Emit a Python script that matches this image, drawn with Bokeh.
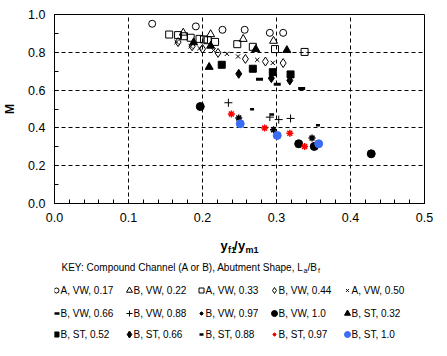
from bokeh.plotting import figure
from bokeh.models import Range1d, SingleIntervalTicker, PrintfTickFormatter
from bokeh.layouts import column
from bokeh.core.properties import value
from bokeh.embed import file_html
from bokeh.resources import INLINE

FONT = "Liberation Sans"

# ---------------- data ----------------
A_VW_017_x = [0.132, 0.191, 0.227, 0.257, 0.291, 0.309]
A_VW_017_y = [0.951, 0.937, 0.919, 0.919, 0.903, 0.903]

B_VW_022_x = [0.174, 0.211, 0.255, 0.296]
B_VW_022_y = [0.903, 0.895, 0.870, 0.860]

A_VW_033_x = [0.155, 0.167, 0.175, 0.184, 0.196, 0.202, 0.207, 0.217, 0.247, 0.268, 0.298, 0.338]
A_VW_033_y = [0.894, 0.891, 0.885, 0.877, 0.871, 0.868, 0.864, 0.855, 0.843, 0.829, 0.817, 0.802]

B_VW_044_x = [0.167, 0.186, 0.200, 0.221, 0.258, 0.285, 0.309]
B_VW_044_y = [0.854, 0.832, 0.818, 0.797, 0.765, 0.751, 0.743]

A_VW_050_x = [0.165, 0.184, 0.196, 0.215, 0.233, 0.248, 0.274, 0.295]
A_VW_050_y = [0.854, 0.832, 0.822, 0.810, 0.792, 0.778, 0.760, 0.744]

B_VW_066_x = [0.277, 0.301, 0.334]
B_VW_066_y = [0.658, 0.631, 0.608]

B_VW_088_x = [0.235, 0.291, 0.303, 0.319]
B_VW_088_y = [0.533, 0.457, 0.444, 0.450]

B_VW_097_x = [0.249, 0.296, 0.348]
B_VW_097_y = [0.453, 0.390, 0.346]

B_VW_10_x = [0.197, 0.330, 0.351, 0.428]
B_VW_10_y = [0.513, 0.316, 0.302, 0.263]

B_ST_032_x = [0.188, 0.211, 0.272, 0.314, 0.209]
B_ST_032_y = [0.852, 0.834, 0.816, 0.811, 0.722]

B_ST_052_x = [0.226, 0.268, 0.295, 0.319]
B_ST_052_y = [0.734, 0.713, 0.695, 0.683]

B_ST_066_x = [0.249, 0.293, 0.318]
B_ST_066_y = [0.686, 0.663, 0.651]

B_ST_088_x = [0.267, 0.294, 0.356]
B_ST_088_y = [0.499, 0.471, 0.414]

B_ST_097_x = [0.239, 0.284, 0.318, 0.338]
B_ST_097_y = [0.474, 0.399, 0.372, 0.302]

B_ST_10_x = [0.251, 0.301, 0.357]
B_ST_10_y = [0.422, 0.360, 0.316]

labels = ["A, VW, 0.17", "B, VW, 0.22", "A, VW, 0.33", "B, VW, 0.44", "A, VW, 0.50",
          "B, VW, 0.66", "B, VW, 0.88", "B, VW, 0.97", "B, VW, 1.0", "B, ST, 0.32",
          "B, ST, 0.52", "B, ST, 0.66", "B, ST, 0.88", "B, ST, 0.97", "B, ST, 1.0"]

BLUE = "#3a6cf4"
RED = "#ff0000"
# marker, fill, line, size, line_width, legend size
styles = [
    ("circle", None, "black", 7, 1, 5),
    ("triangle", None, "black", 8, 1, 6),
    ("square", None, "black", 7, 1, 5),
    ("diamond", None, "black", 9, 1, 6),
    ("x", None, "black", 6, 1, 4),
    ("dash", None, "black", 7, 3, 6),
    ("cross", None, "black", 8, 1, 6),
    ("asterisk", None, "black", 7, 1.5, 4),
    ("circle", "black", "black", 8, 1, 6),
    ("triangle", "black", "black", 8, 1, 6),
    ("square", "black", "black", 7, 1, 5),
    ("diamond", "black", "black", 9, 1, 7),
    ("dash", None, "black", 4, 2.5, 4),
    ("asterisk", None, RED, 7, 1.5, 4),
    ("circle", BLUE, BLUE, 8, 1, 6),
]
series = [
    (A_VW_017_x, A_VW_017_y), (B_VW_022_x, B_VW_022_y), (A_VW_033_x, A_VW_033_y),
    (B_VW_044_x, B_VW_044_y), (A_VW_050_x, A_VW_050_y), (B_VW_066_x, B_VW_066_y),
    (B_VW_088_x, B_VW_088_y), (B_VW_097_x, B_VW_097_y), (B_VW_10_x, B_VW_10_y),
    (B_ST_032_x, B_ST_032_y), (B_ST_052_x, B_ST_052_y), (B_ST_066_x, B_ST_066_y),
    (B_ST_088_x, B_ST_088_y), (B_ST_097_x, B_ST_097_y), (B_ST_10_x, B_ST_10_y),
]

# ---------------- main plot ----------------
p = figure(width=447, height=230, output_backend="svg", toolbar_location=None,
           x_range=Range1d(0, 0.5), y_range=Range1d(0, 1.0),
           min_border_left=54, min_border_right=23, min_border_top=14, min_border_bottom=27)
p.background_fill_color = "white"
p.border_fill_color = "white"
p.outline_line_color = "black"
p.outline_line_width = 1

p.xaxis.ticker = SingleIntervalTicker(interval=0.1, num_minor_ticks=5)
p.yaxis.ticker = SingleIntervalTicker(interval=0.2, num_minor_ticks=2)
p.xaxis.formatter = PrintfTickFormatter(format="%.1f")
p.yaxis.formatter = PrintfTickFormatter(format="%.1f")
for ax in (p.xaxis, p.yaxis):
    ax.axis_line_color = "black"
    ax.major_tick_in = 4
    ax.major_tick_out = 0
    ax.minor_tick_in = 4
    ax.minor_tick_out = 0
    ax.major_tick_line_color = "black"
    ax.minor_tick_line_color = "black"
    ax.major_label_text_font = FONT
    ax.major_label_text_font_size = "12.5px"
    ax.major_label_text_color = "black"
p.xaxis.major_label_standoff = 9
p.yaxis.major_label_standoff = 9
p.yaxis.axis_label = "M"
p.yaxis.axis_label_text_font = FONT
p.yaxis.axis_label_text_font_style = "bold"
p.yaxis.axis_label_text_font_size = "12px"
p.yaxis.axis_label_text_color = "black"
p.yaxis.axis_label_standoff = 8

for g in (p.xgrid, p.ygrid):
    g.grid_line_color = "black"
    g.grid_line_dash = "4 3"
    g.grid_line_width = 1

for (xs, ys), (mk, fill, line, size, lw, _) in zip(series, styles):
    p.scatter(xs, ys, marker=mk, size=size,
              fill_color=fill if fill else "white",
              fill_alpha=1 if fill else 0,
              line_color=line, line_width=lw)

# ---------------- key area (coordinates = page pixels) ----------------
k = figure(width=447, height=126, output_backend="svg", toolbar_location=None,
           x_range=Range1d(54, 424), y_range=Range1d(356, 230),
           min_border_left=54, min_border_right=23,
           min_border_top=0, min_border_bottom=0)
k.axis.visible = False
k.grid.visible = False
k.outline_line_color = None
k.background_fill_color = "white"
k.border_fill_color = "white"

# x axis title  y_f1 / y_m1
tx = [220, 227.5, 233.5, 237.5, 245]
tt = ["y", "f1", "/", "y", "m1"]
ty = [245, 249, 245, 245, 249]
ts = ["13px", "9px", "13px", "13px", "9px"]
for x0, t, y0, s in zip(tx, tt, ty, ts):
    k.text([x0], [y0], text=[t], text_font=value(FONT), text_font_size=s,
           text_font_style="bold", text_align="left", text_baseline="middle",
           text_color="black")

# KEY line
key_parts = ["KEY:  Compound Channel (A or B), Abutment Shape, L", "a", "/B", "f"]
key_x = [61, 303, 307, 317.5]
key_y = [267, 270, 267, 270]
key_s = ["10px", "7px", "10px", "7px"]
for x0, t, y0, s in zip(key_x, key_parts, key_y, key_s):
    k.text([x0], [y0], text=[t], text_font=value(FONT), text_font_size=s,
           text_align="left", text_baseline="middle", text_color="black")

col_x = [56, 129, 201, 274, 347]
row_y = [290, 313, 334]
for i, (lab, (mk, fill, line, size, lw, lsize)) in enumerate(zip(labels, styles)):
    cx = col_x[i % 5]
    cy = row_y[i // 5]
    k.scatter([cx], [cy], marker=mk, size=lsize,
              fill_color=fill if fill else "white",
              fill_alpha=1 if fill else 0,
              line_color=line, line_width=min(lw, 2.5) if mk == "dash" else 1)
    k.text([cx + 4], [cy], text=[lab], text_font=value(FONT), text_font_size="10px",
           text_align="left", text_baseline="middle", text_color="black")

layout = column(p, k, spacing=0)
open("out.html", "w").write(file_html(layout, INLINE))
